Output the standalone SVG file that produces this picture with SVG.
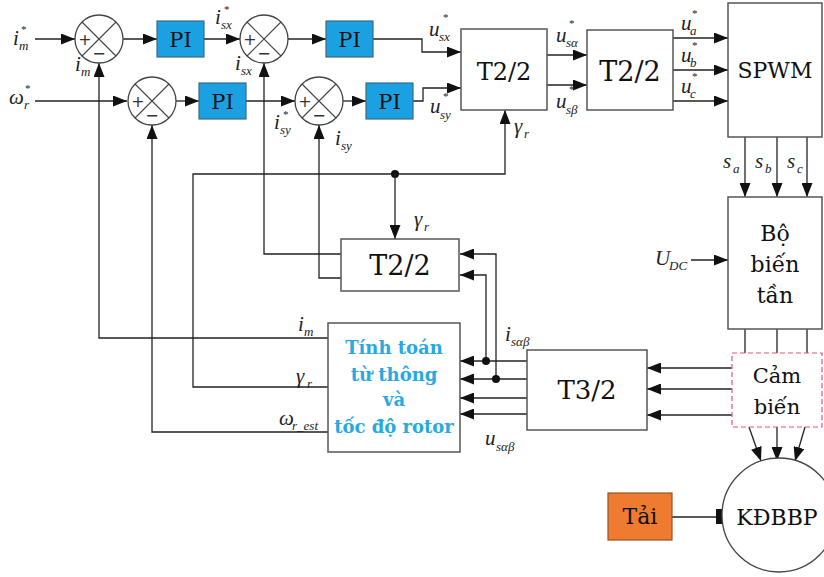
<svg xmlns="http://www.w3.org/2000/svg" width="824" height="577" viewBox="0 0 824 577">
<defs>
<marker id="ah" markerUnits="userSpaceOnUse" markerWidth="14" markerHeight="11" refX="14" refY="5.5" orient="auto">
<path d="M0,0 L14,5.5 L0,11 z" fill="#111"/>
</marker>
<style>
.bx{fill:#fff;stroke:#555;stroke-width:1.5}
.pi{fill:#1ba1e2;stroke:#3c6a86;stroke-width:1.2}
.sum{fill:#fff;stroke:#444;stroke-width:1.3}
.x{stroke:#444;stroke-width:1.1;fill:none}
.ln{fill:none;stroke:#222;stroke-width:1.3}
.ar{fill:none;stroke:#222;stroke-width:1.3;marker-end:url(#ah)}
.bt{font-family:"DejaVu Serif",serif;fill:#111;text-anchor:middle}
.sg{font-family:"DejaVu Sans",sans-serif;font-size:16px;fill:#333;text-anchor:middle}
.v{font-family:"Liberation Serif",serif;font-style:italic;font-size:21px;fill:#222}
.s{font-family:"Liberation Serif",serif;font-style:italic;font-size:13px;fill:#222}
.k{font-family:"Liberation Serif",serif;font-size:11px;fill:#222}
.blue{font-family:"DejaVu Serif",serif;font-weight:bold;font-size:18px;fill:#27a9e1;text-anchor:middle}
</style>
</defs>
<rect width="824" height="577" fill="#fff"/>

<g id="connectors">
<path class="ar" d="M35,39 H75"/>
<path class="ar" d="M123,39 H157"/>
<path class="ar" d="M204,39 H240"/>
<path class="ar" d="M288,39 H326"/>
<path class="ar" d="M373,39 H422 V52 H461"/>
<path class="ar" d="M35,101 H127"/>
<path class="ar" d="M175,101 H199"/>
<path class="ar" d="M246,101 H295"/>
<path class="ar" d="M343,101 H366"/>
<path class="ar" d="M413,101 H423 V88 H461"/>
<path class="ar" d="M547,55 H587"/>
<path class="ar" d="M547,85 H587"/>
<path class="ar" d="M673,38 H728"/>
<path class="ar" d="M673,70 H728"/>
<path class="ar" d="M673,101 H728"/>
<path class="ar" d="M745,137 V197"/>
<path class="ar" d="M777,137 V197"/>
<path class="ar" d="M807,137 V197"/>
<path class="ar" d="M691,260 H728"/>
<path class="ln" d="M745,329 V353 M777,329 V353 M807,329 V353"/>
<path class="ar" d="M732,368 H647"/>
<path class="ar" d="M732,389 H647"/>
<path class="ar" d="M732,415 H647"/>
<path class="ar" d="M749,427 L761,461"/>
<path class="ar" d="M777,427 V461"/>
<path class="ar" d="M805,427 L795,461"/>
<path class="ln" d="M672,517 H717"/>
<rect x="716" y="509" width="6" height="15" fill="#111"/>
<path class="ar" d="M527,361 H460"/>
<path class="ar" d="M527,379 H460"/>
<path class="ar" d="M527,398 H460"/>
<path class="ar" d="M527,414 H460"/>
<path class="ar" d="M486,361 V275 H460"/>
<path class="ar" d="M496,379 V254 H460"/>
<circle cx="486" cy="361" r="4" fill="#111"/>
<circle cx="496" cy="379" r="4" fill="#111"/>
<path class="ar" d="M341,254 H264 V63"/>
<path class="ar" d="M341,278 H319 V125"/>
<path class="ar" d="M328,338 H99 V63"/>
<path class="ar" d="M328,387 H193 V174 H505 V110"/>
<circle cx="395" cy="174" r="4" fill="#111"/>
<path class="ar" d="M395,174 V239"/>
<path class="ar" d="M328,432 H152 V125"/>
</g>

<g id="sum1"><circle class="sum" cx="99" cy="39" r="24"/><path class="x" d="M82,22 L116,56 M116,22 L82,56"/><text class="sg" x="85" y="45">+</text><text class="sg" x="99" y="59">−</text></g>
<g id="sum2"><circle class="sum" cx="264" cy="39" r="24"/><path class="x" d="M247,22 L281,56 M281,22 L247,56"/><text class="sg" x="250" y="45">+</text><text class="sg" x="264" y="59">−</text></g>
<g id="sum3"><circle class="sum" cx="152" cy="101" r="24"/><path class="x" d="M135,84 L169,118 M169,84 L135,118"/><text class="sg" x="138" y="107">+</text><text class="sg" x="152" y="121">−</text></g>
<g id="sum4"><circle class="sum" cx="319" cy="101" r="24"/><path class="x" d="M302,84 L336,118 M336,84 L302,118"/><text class="sg" x="305" y="107">+</text><text class="sg" x="319" y="121">−</text></g>

<g id="pi1"><rect class="pi" x="157" y="21" width="47" height="36"/><text class="bt" x="180.5" y="47" font-size="21">PI</text></g>
<g id="pi2"><rect class="pi" x="199" y="83" width="47" height="36"/><text class="bt" x="222.5" y="109" font-size="21">PI</text></g>
<g id="pi3"><rect class="pi" x="326" y="21" width="47" height="36"/><text class="bt" x="349.5" y="47" font-size="21">PI</text></g>
<g id="pi4"><rect class="pi" x="366" y="83" width="47" height="36"/><text class="bt" x="389.5" y="109" font-size="21">PI</text></g>

<g id="t22a"><rect class="bx" x="461" y="29" width="86" height="81"/><text class="bt" x="504" y="80" font-size="24">T2/2</text></g>
<g id="t22b"><rect class="bx" x="587" y="30" width="86" height="80"/><text class="bt" x="630" y="81" font-size="27">T2/2</text></g>
<g id="spwm"><rect class="bx" x="728" y="3" width="94" height="134"/><text class="bt" x="775" y="78" font-size="22">SPWM</text></g>
<g id="inverter"><rect class="bx" x="728" y="197" width="94" height="132"/><text class="bt" x="775" y="241" font-size="22">Bộ</text><text class="bt" x="775" y="272" font-size="22">biến</text><text class="bt" x="775" y="303" font-size="22">tần</text></g>
<g id="sensor"><rect x="732" y="353" width="90" height="74" fill="#fff" stroke="#e0587a" stroke-width="1.2" stroke-dasharray="5,3"/><text class="bt" x="777" y="383" font-size="21">Cảm</text><text class="bt" x="777" y="414" font-size="21">biến</text></g>
<g id="t32"><rect class="bx" x="527" y="350" width="120" height="80"/><text class="bt" x="587" y="399" font-size="26">T3/2</text></g>
<g id="t22c"><rect class="bx" x="341" y="239" width="118" height="52"/><text class="bt" x="400" y="275" font-size="27">T2/2</text></g>
<g id="estimator"><rect class="bx" x="328" y="323" width="132" height="129"/><text class="blue" x="394" y="354">Tính toán</text><text class="blue" x="394" y="381">từ thông</text><text class="blue" x="394" y="406">và</text><text class="blue" x="394" y="433">tốc độ rotor</text></g>
<g id="load"><rect x="608" y="493" width="64" height="47" fill="#ee7b30" stroke="#9a5422" stroke-width="1.2"/><text class="bt" x="640" y="524" font-size="22">Tải</text></g>
<g id="motor"><circle cx="779" cy="515" r="57" fill="#fff" stroke="#444" stroke-width="1.3"/><text class="bt" x="777" y="525" font-size="22">KĐBBP</text></g>

<g id="labels">
<text class="v" x="13" y="45">i</text><text class="s" x="19" y="50">m</text><text class="k" x="21" y="33">*</text>
<text class="v" x="75" y="71">i</text><text class="s" x="81" y="76">m</text>
<text class="v" x="9" y="104">ω</text><text class="s" x="24" y="109">r</text><text class="k" x="25" y="92">*</text>
<text class="v" x="215" y="24">i</text><text class="s" x="221" y="29">sx</text><text class="k" x="224" y="13">*</text>
<text class="v" x="235" y="70">i</text><text class="s" x="241" y="75">sx</text>
<text class="v" x="274" y="129">i</text><text class="s" x="280" y="134">sy</text><text class="k" x="283" y="118">*</text>
<text class="v" x="335" y="145">i</text><text class="s" x="341" y="150">sy</text>
<text class="v" x="429" y="36">u</text><text class="s" x="439" y="41">sx</text><text class="k" x="443" y="21">*</text>
<text class="v" x="430" y="113">u</text><text class="s" x="440" y="119">sy</text><text class="k" x="443" y="100">*</text>
<text class="v" x="514" y="133">γ</text><text class="s" x="524" y="138">r</text>
<text class="v" x="556" y="42">u</text><text class="s" x="566" y="47">sα</text><text class="k" x="569" y="27">*</text>
<text class="v" x="556" y="108">u</text><text class="s" x="566" y="114">sβ</text><text class="k" x="569" y="93">*</text>
<text class="v" x="681" y="30">u</text><text class="s" x="690" y="35">a</text><text class="k" x="692" y="17">*</text>
<text class="v" x="681" y="62">u</text><text class="s" x="690" y="67">b</text><text class="k" x="692" y="49">*</text>
<text class="v" x="681" y="93">u</text><text class="s" x="690" y="98">c</text><text class="k" x="692" y="80">*</text>
<text class="v" x="723" y="168">s</text><text class="s" x="733" y="173">a</text>
<text class="v" x="755" y="168">s</text><text class="s" x="765" y="173">b</text>
<text class="v" x="787" y="168">s</text><text class="s" x="797" y="173">c</text>
<text class="v" x="655" y="265">U</text><text class="s" x="669" y="270">DC</text>
<text class="v" x="414" y="226">γ</text><text class="s" x="424" y="231">r</text>
<text class="v" x="298" y="331">i</text><text class="s" x="304" y="336">m</text>
<text class="v" x="296" y="383">γ</text><text class="s" x="307" y="388">r</text>
<text class="v" x="279" y="425">ω</text><text class="s" x="292" y="430">r_est</text>
<text class="v" x="505" y="341">i</text><text class="s" x="511" y="346">sαβ</text>
<text class="v" x="485" y="445">u</text><text class="s" x="496" y="451">sαβ</text>
</g>
</svg>
